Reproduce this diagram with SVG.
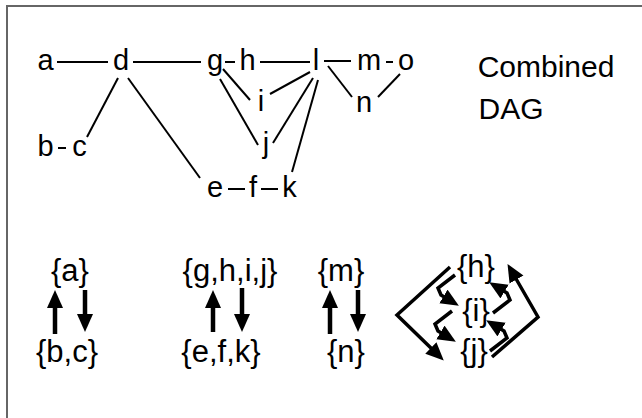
<svg xmlns="http://www.w3.org/2000/svg" width="642" height="418" viewBox="0 0 642 418">
<style>
.t{font-family:"Liberation Sans",Arial,sans-serif;font-size:29px;fill:#000;text-anchor:middle}
.b{font-family:"Liberation Sans",Arial,sans-serif;font-size:31px;fill:#000;text-anchor:middle}
.e{stroke:#000;stroke-width:2;fill:none}
.a{stroke:#000;stroke-width:4.5;fill:none;marker-end:url(#ah)}
.p{stroke:#000;stroke-width:3.5;fill:none;stroke-linejoin:miter;marker-end:url(#ah)}
</style>
<defs>
<marker id="ah" markerUnits="userSpaceOnUse" markerWidth="20" markerHeight="18" refX="3" refY="8" orient="auto">
<path d="M0,0 L18,8 L0,16 z" fill="#000"/>
</marker>
</defs>
<rect x="0" y="0" width="642" height="418" fill="#fff"/>
<rect x="7" y="6" width="700" height="500" fill="none" stroke="#666" stroke-width="2"/>
<g id="connectors">
<line class="e" x1="57" y1="62" x2="108" y2="62"/>
<line class="e" x1="133" y1="62" x2="201" y2="62"/>
<line class="e" x1="225" y1="62" x2="235" y2="62"/>
<line class="e" x1="260" y1="62" x2="310" y2="62"/>
<line class="e" x1="324" y1="61" x2="351" y2="61"/>
<line class="e" x1="386" y1="62" x2="393" y2="62"/>
<line class="e" x1="58" y1="148" x2="66" y2="148"/>
<line class="e" x1="228" y1="189" x2="245" y2="189"/>
<line class="e" x1="261" y1="189" x2="278" y2="189"/>
<line class="e" x1="118" y1="78" x2="87" y2="137"/>
<line class="e" x1="128" y1="78" x2="200" y2="178"/>
<line class="e" x1="223" y1="69" x2="250" y2="100"/>
<line class="e" x1="220" y1="79" x2="258" y2="145"/>
<line class="e" x1="310" y1="72" x2="270" y2="94"/>
<line class="e" x1="313" y1="78" x2="273" y2="143"/>
<line class="e" x1="318" y1="80" x2="292" y2="172"/>
<line class="e" x1="328" y1="66" x2="352" y2="97"/>
<line class="e" x1="400" y1="74" x2="378" y2="97"/>
<line class="a" x1="55" y1="334" x2="55" y2="305"/>
<line class="a" x1="85" y1="290" x2="85" y2="317"/>
<line class="a" x1="213" y1="332" x2="213" y2="305"/>
<line class="a" x1="242" y1="288" x2="242" y2="317"/>
<line class="a" x1="330" y1="334" x2="330" y2="305"/>
<line class="a" x1="358" y1="290" x2="358" y2="317"/>
<path class="p" d="M450,267 L397,315 L433,350"/>
<path class="p" d="M455,275 L438,288 L441,295 L446,298"/>
<path class="p" d="M452,311 L435,324 L438,331 L443,334"/>
<path class="p" d="M492,357 L538,317 L515,277"/>
<path class="p" d="M490,351 L507,338 L504,331 L499,328"/>
<path class="p" d="M493,313 L510,300 L507,293 L502,290"/>
</g>
<g id="n-a"><text class="t" x="45.5" y="70">a</text></g>
<g id="n-d"><text class="t" x="121" y="70">d</text></g>
<g id="n-g"><text class="t" x="215" y="70">g</text></g>
<g id="n-h"><text class="t" x="247.5" y="70">h</text></g>
<g id="n-l"><text class="t" x="316" y="70">l</text></g>
<g id="n-m"><text class="t" x="369" y="70">m</text></g>
<g id="n-o"><text class="t" x="406" y="70">o</text></g>
<g id="n-i"><text class="t" x="261" y="111">i</text></g>
<g id="n-n"><text class="t" x="364" y="112">n</text></g>
<g id="n-j"><text class="t" x="266" y="153">j</text></g>
<g id="n-b"><text class="t" x="45.5" y="156">b</text></g>
<g id="n-c"><text class="t" x="79.5" y="156">c</text></g>
<g id="n-e"><text class="t" x="215" y="197">e</text></g>
<g id="n-f"><text class="t" x="253" y="197">f</text></g>
<g id="n-k"><text class="t" x="289.5" y="197">k</text></g>
<g id="title"><text class="b" x="546" y="77" style="font-size:30px">Combined</text><text class="b" x="511" y="119" style="font-size:30px">DAG</text></g>
<g id="s-a"><text class="b" x="70" y="281">{a}</text></g>
<g id="s-bc"><text class="b" x="67" y="362">{b,c}</text></g>
<g id="s-ghij"><text class="b" x="230" y="281">{g,h,i,j}</text></g>
<g id="s-efk"><text class="b" x="221" y="362">{e,f,k}</text></g>
<g id="s-m"><text class="b" x="341" y="281">{m}</text></g>
<g id="s-n"><text class="b" x="346" y="362">{n}</text></g>
<g id="s-h"><text class="b" x="476" y="277">{h}</text></g>
<g id="s-i"><text class="b" x="476" y="321">{i}</text></g>
<g id="s-j"><text class="b" x="474" y="361">{j}</text></g>
</svg>
